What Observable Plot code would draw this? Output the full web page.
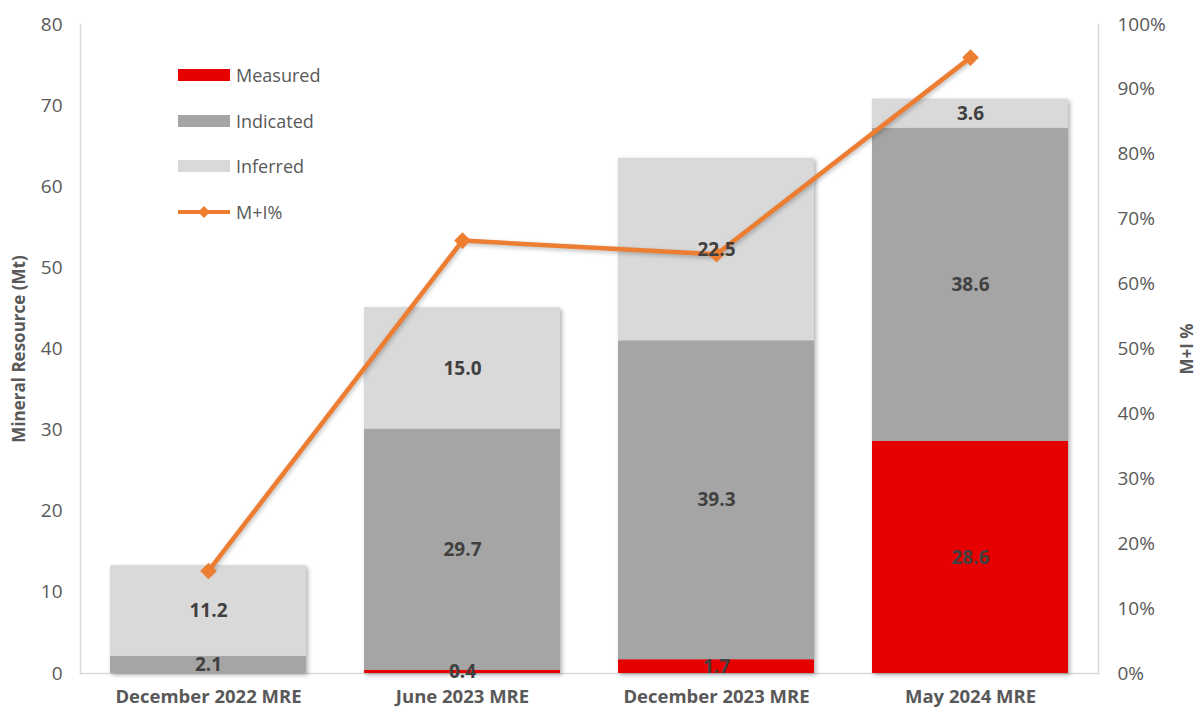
<!DOCTYPE html>
<html>
<head>
<meta charset="utf-8">
<script src="https://cdn.jsdelivr.net/npm/d3@7"></script>
<script src="https://cdn.jsdelivr.net/npm/@observablehq/plot@0.6"></script>
<style>
  body { margin: 0; background: #fff; font-family: "Open Sans", sans-serif; }
  #wrap { position: relative; width: 1199px; height: 708px; }
  #legend { position: absolute; left: 178px; top: 62px; font-size: 18px; color: #595959; }
  .row { display: flex; align-items: center; height: 26px; margin-bottom: 19.5px; }
  .sw { width: 52px; height: 12px; margin-right: 6px; }
</style>
</head>
<body>
<div id="wrap"></div>
<script>
const categories = ["December 2022 MRE", "June 2023 MRE", "December 2023 MRE", "May 2024 MRE"];
const series = ["Measured", "Indicated", "Inferred"];
const measured = [0, 0.4, 1.7, 28.6];
const indicated = [2.1, 29.7, 39.3, 38.6];
const inferred = [11.2, 15.0, 22.5, 3.6];
const miPercent = [15.8, 66.7, 64.6, 94.9];
const leftTicks = [0, 10, 20, 30, 40, 50, 60, 70, 80];
const rightTickPct = [0, 10, 20, 30, 40, 50, 60, 70, 80, 90, 100];
const colors = {Measured: "#E60000", Indicated: "#A5A5A5", Inferred: "#D9D9D9"};
const orange = "#ED7D31";

const yMax = 80;
const pctToY = p => p * yMax / 100;

const rows = [];
categories.forEach((c, i) => {
  rows.push({cat: c, series: "Measured", order: 0, value: measured[i]});
  rows.push({cat: c, series: "Indicated", order: 1, value: indicated[i]});
  rows.push({cat: c, series: "Inferred", order: 2, value: inferred[i]});
});
const lineData = categories.map((c, i) => ({cat: c, y: pctToY(miPercent[i])}));
const labelRows = rows.filter(d => d.value > 0);

const stackOpts = {x: "cat", y: "value", z: "order", order: "z"};

const chart = Plot.plot({
  width: 1199,
  height: 708,
  marginLeft: 80,
  marginRight: 101,
  marginTop: 24,
  marginBottom: 35,
  style: {fontFamily: "'Open Sans', sans-serif", fontSize: "19px", color: "#595959", background: "white"},
  x: {domain: categories, paddingInner: 0.23, paddingOuter: 0.115},
  y: {domain: [0, yMax]},
  color: {domain: series, range: series.map(s => colors[s])},
  marks: [
    Plot.frame({anchor: "left", stroke: "#D9D9D9", strokeWidth: 1.5}),
    Plot.frame({anchor: "right", stroke: "#D9D9D9", strokeWidth: 1.5}),
    Plot.frame({anchor: "bottom", stroke: "#D9D9D9", strokeWidth: 1.5}),
    Plot.axisY({anchor: "left", ticks: leftTicks, tickSize: 0, tickPadding: 18, fontSize: 19, label: "Mineral Resource (Mt)", labelAnchor: "center", labelArrow: "none", labelOffset: 68, fill: "#595959"}),
    Plot.axisY({anchor: "right", ticks: rightTickPct.map(pctToY), tickFormat: d => Math.round(d * 100 / yMax) + "%", tickSize: 0, tickPadding: 19, fontSize: 19, label: "M+I %", labelAnchor: "center", labelArrow: "none", labelOffset: 94, fill: "#595959"}),
    Plot.axisX({tickSize: 0, tickPadding: 16, label: null, fontWeight: "bold", fontSize: 18.5, fill: "#595959"}),
    Plot.barY(rows, Plot.stackY({...stackOpts, fill: "series"})),
    Plot.line(lineData, {x: "cat", y: "y", stroke: orange, strokeWidth: 4.5}),
    Plot.dot(lineData, {x: "cat", y: "y", symbol: "diamond2", r: 7.5, fill: orange, stroke: null}),
    Plot.text(labelRows, Plot.stackY({...stackOpts, text: d => d.value.toFixed(1), fill: "#404040", fontWeight: "bold", fontSize: 19}))
  ]
});

const svg = d3.select(chart);
svg.selectAll('g[aria-label="y-axis label"] text').attr("font-weight", "bold").attr("fill", "#595959").attr("font-size", 17);
svg.selectAll('g[aria-label="y-axis label"]').attr("font-size", 17);
svg.selectAll('g[aria-label="bar"]').attr("style", "filter: drop-shadow(2px 2px 2px rgba(0,0,0,0.3))");
svg.selectAll('g[aria-label="line"]').attr("style", "filter: drop-shadow(1px 2px 2px rgba(0,0,0,0.25))");

const wrap = document.getElementById("wrap");
wrap.appendChild(chart);

const legend = document.createElement("div");
legend.id = "legend";
series.forEach(s => {
  const r = document.createElement("div");
  r.className = "row";
  r.innerHTML = `<div class="sw" style="background:${colors[s]}"></div><span>${s}</span>`;
  legend.appendChild(r);
});
const lr = document.createElement("div");
lr.className = "row";
lr.innerHTML = `<svg width="52" height="14" style="margin-right:6px"><line x1="1" x2="51" y1="7" y2="7" stroke="${orange}" stroke-width="4" stroke-linecap="round"/><path d="M26,1 L32,7 L26,13 L20,7 Z" fill="${orange}"/></svg><span>M+I%</span>`;
legend.appendChild(lr);
wrap.appendChild(legend);
</script>
</body>
</html>
